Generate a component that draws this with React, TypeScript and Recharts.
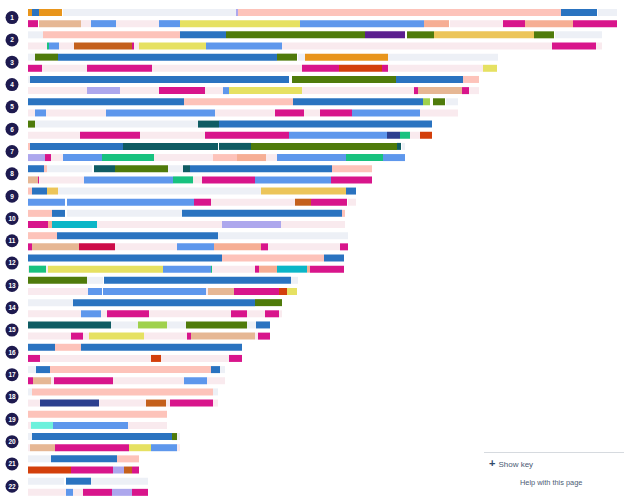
import React from "react"
import { Bar, BarChart, Cell, XAxis, YAxis } from "recharts"

// Each row string: <mode letter><end position> ... (positions along the day axis)
const tripTop = [
  "O4 B11 O34 w35 g208 A210 S533 B569 w570 g589",
  "g15 S152 B198 V337 U377 w379 V406 G506 V526 w527 g574",
  "g7 V30 B249 V269 w270 g277 O360 g470",
  "g2 B261 w264 V368 B435 S451",
  "B156 S265 B395 I402 w405 V417 w418 g430",
  "V7 g170 D191 B404",
  "S2 B95 D190 w191 D223 V369 D373 w374 g377",
  "B16 S19 g64 w66 D87 V140 g155 D162 B304 S344",
  "S4 B19 G30 g233 G318 B328",
  "S24 B37 w39 g154 B314 S317",
  "S29 B190 g320",
  "B194 S296 B316",
  "V59 g75 w76 B263 g270",
  "g45 B227 V254",
  "D83 g110 I139 g158 V219 g228 B242",
  "B27 S53 B214",
  "g8 B22 S183 B192 g197",
  "g4 S185 g190",
  "S139",
  "g4 B144 V149 g152",
  "g23 B89 S111",
  "g36 w38 B63 g120",
]

const tripBottom = [
  "M10 w11 T53 p63 L88 p131 L152 Y272 L396 P421 w422 p475 M497 P545 M589",
  "p19 N21 L31 p46 R104 M106 p111 Y178 L254 p524 M568 p574",
  "M14 p59 M124 p274 M311 X354 M360 p455 Y469",
  "p59 A92 p131 M177 p195 L201 Y274 p386 M390 T434 M441 p451",
  "p7 L18 p78 L187 p247 M276 p292 M324 L392 p430",
  "p52 M112 p177 M261 L359 Z372 N382 p392 X404",
  "A17 M23 p35 L74 N126 p185 S209 P238 p249 L318 N355 L377",
  "T10 M11 p56 L145 N165 p174 M227 L303 M344",
  "L37 w39 L166 M183 p267 R283 M319 w320 p328",
  "M20 P24 C69 p194 A253 p317",
  "M4 T51 K87 p149 L186 P233 M240 p312 M320",
  "p1 N18 p20 Y135 L183 N184 p227 M231 P249 C279 P282 M316",
  "p60 L74 w75 L178 p180 T206 M251 X259 Y269",
  "p53 L73 p79 M121 p203 M219 p237 M251 p254",
  "p43 M55 p61 Y116 p159 M163 T227 p230 M242",
  "M12 p123 X133 p201 M214",
  "M5 T23 p26 M85 p156 L179 p197",
  "p12 Z71 p118 R138 p142 M185 p190",
  "p3 Q25 L100 p139",
  "p2 T27 M101 Y123 L149 p152",
  "X43 M85 A96 R104 M111",
  "p38 L45 p55 M84 A104 M120",
]

const modeColors: Record<string, string> = {
  w: "transparent",
  g: "#edf0f6",
  p: "#f9eaee",
  B: "#2a73c0",
  L: "#5e97ec",
  S: "#fdc3ba",
  P: "#f6ae94",
  M: "#d8158b",
  T: "#e6b794",
  Y: "#e6e162",
  G: "#ecc55a",
  O: "#e8951c",
  V: "#4f7b0b",
  U: "#5c1f8f",
  R: "#c4601c",
  X: "#d33f0b",
  D: "#0f5c63",
  N: "#18c27f",
  I: "#9fd14d",
  A: "#ada7ed",
  Z: "#2c3f8f",
  C: "#0bb6c7",
  K: "#cd0c48",
  Q: "#6cf1dc",
}

function parseRow(row: string) {
  let prev = 0
  return row.split(" ").map((token) => {
    const end = Number(token.slice(1))
    const seg = { mode: token[0], width: end - prev }
    prev = end
    return seg
  })
}

const parsed: { name: string; segs: { mode: string; width: number }[] }[] = []
tripTop.forEach((top, i) => {
  parsed.push({ name: `${i + 1}a`, segs: parseRow(top) })
  parsed.push({ name: `${i + 1}b`, segs: parseRow(tripBottom[i]) })
})

const maxSegs = Math.max(...parsed.map((r) => r.segs.length))
const segKeys = Array.from({ length: maxSegs }, (_, k) => `s${k}`)

const chartData = parsed.map((r) => {
  const row: Record<string, string | number> = { name: r.name }
  segKeys.forEach((key, k) => {
    row[key] = r.segs[k] ? r.segs[k].width : 0
  })
  return row
})

function TripTick(props: any) {
  const { x, y, payload } = props
  const label: string = payload.value
  if (!label.endsWith("a")) return null
  const num = label.slice(0, -1)
  const cy = y + 5
  return (
    <g>
      <circle cx={12} cy={cy} r={6.5} fill="#1e1a4f" />
      <text
        x={12}
        y={cy + 2.4}
        textAnchor="middle"
        fill="#fff"
        fontSize={6.5}
        fontWeight="bold"
        fontFamily="Liberation Sans, Arial, sans-serif"
      >
        {num}
      </text>
    </g>
  )
}

export default function App() {
  return (
    <div
      style={{
        position: "absolute",
        left: 0,
        top: 0,
        width: 624,
        height: 499,
        background: "#fff",
        fontFamily: "Liberation Sans, Arial, sans-serif",
      }}
    >
      <BarChart
        width={624}
        height={499}
        layout="vertical"
        data={chartData}
        margin={{ top: 7, right: 0, bottom: 1, left: 0 }}
      >
        <XAxis type="number" domain={[0, 596]} hide allowDataOverflow />
        <YAxis
          type="category"
          dataKey="name"
          width={28}
          interval={0}
          axisLine={false}
          tickLine={false}
          tick={<TripTick />}
        />
        {segKeys.map((key, k) => (
          <Bar key={key} dataKey={key} stackId="trip" barSize={7} isAnimationActive={false}>
            {parsed.map((r, j) => (
              <Cell
                key={`cell-${j}`}
                fill={r.segs[k] ? modeColors[r.segs[k].mode] : "transparent"}
              />
            ))}
          </Bar>
        ))}
      </BarChart>

      <div
        style={{
          position: "absolute",
          left: 484,
          top: 452,
          width: 140,
          height: 1,
          background: "#d6dadf",
        }}
      />
      <div
        style={{
          position: "absolute",
          left: 489,
          top: 457,
          fontSize: 8,
          color: "#4b5b74",
          whiteSpace: "nowrap",
        }}
      >
        <span style={{ color: "#2f4a6a", fontWeight: "bold", fontSize: 11, marginRight: 3 }}>+</span>
        Show key
      </div>
      <div
        style={{
          position: "absolute",
          left: 520,
          top: 478,
          fontSize: 7.4,
          color: "#4b5b74",
          whiteSpace: "nowrap",
        }}
      >
        Help with this page
      </div>
    </div>
  )
}
